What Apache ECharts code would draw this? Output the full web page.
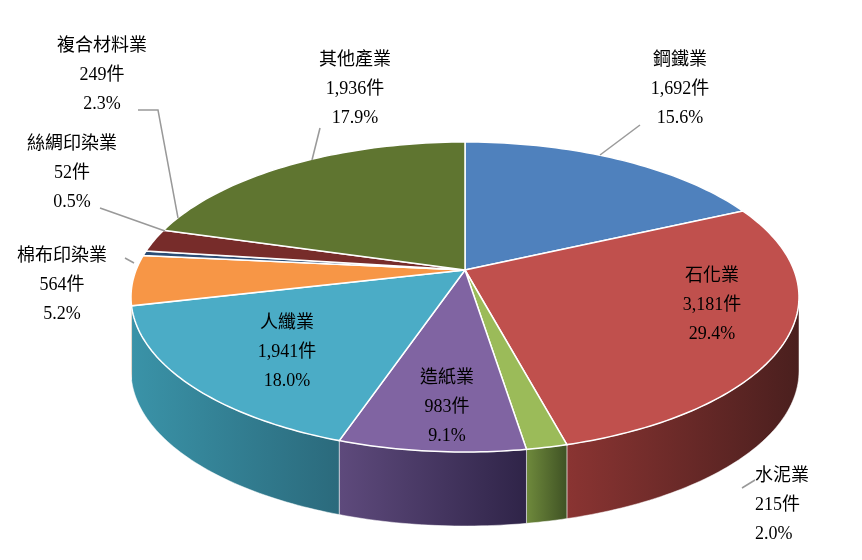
<!DOCTYPE html>
<html><head><meta charset="utf-8">
<script src="https://cdn.jsdelivr.net/npm/echarts@6/dist/echarts.min.js"></script>
<style>html,body{margin:0;background:#fff}#c{width:862px;height:560px}</style>
</head><body><div id="c"></div>
<script>
const categories=['鋼鐵業','石化業','水泥業','造紙業','人纖業','棉布印染業','絲綢印染業','複合材料業','其他產業'];
const counts=[1692,3181,215,983,1941,564,52,249,1936];
const percents=[15.6,29.4,2.0,9.1,18.0,5.2,0.5,2.3,17.9];
const colors=['#4F81BD','#C0504D','#9BBB59','#8064A2','#4BACC6','#F79646','#2C4D75','#772C2A','#5F7530'];
const sideStart=['#3d6596','#8a3432','#6f8a3c','#5e4a7c','#3a93a8','#c87a36','#223c5c','#5a201f','#48592a'];
const sideColors=['#2c4a70','#4a1f1e','#3f5224','#2f2448','#2b6a7c','#a0602a','#1a2e46','#3e1716','#37441b'];
// layout
const CX=465,CY=297,AX=465,AY=270,RX=334,RY=155,D=74;
const labelPos=[[680,46,'center'],[712,262,'center'],[755,462,'left'],[447,364,'center'],[287,309,'center'],[62,242,'center'],[72,130,'center'],[102,32,'center'],[355,46,'center']];
const leaders=[[[600,155],[640,125]],null,[[742,488],[755,480]],null,null,[[134,263],[125,258]],[[100,208],[165,231]],[[138,110],[158,110],[178,218]],[[320,128],[312,160]]];
const total=counts.reduce((a,b)=>a+b,0);
let acc=0;const slices=counts.map((v,i)=>{const s=acc/total*2*Math.PI;acc+=v;return [i,s,acc/total*2*Math.PI];});
function pt(a,dy){return [CX+RX*Math.sin(a),CY-RY*Math.cos(a)+(dy||0)];}
function arc(a1,a2,dy){const n=Math.max(2,Math.ceil((a2-a1)/0.02));const p=[];for(let k=0;k<=n;k++)p.push(pt(a1+(a2-a1)*k/n,dy));return p;}
function sideItem(params,api){const i=api.value(0),s=api.value(1),e=api.value(2);
 const lo=Math.max(s,Math.PI/2),hi=Math.min(e,Math.PI*1.5);if(hi<=lo)return null;
 const top=arc(lo,hi,0),bot=arc(lo,hi,D).reverse();
 return {type:'polygon',shape:{points:top.concat(bot)},style:{fill:new echarts.graphic.LinearGradient(0,0,1,0,[{offset:0,color:sideStart[i]},{offset:1,color:sideColors[i]}]),stroke:'#fff',lineWidth:0.5}};}
function topItem(params,api){const i=api.value(0),s=api.value(1),e=api.value(2);
 return {type:'polygon',shape:{points:[[AX,AY]].concat(arc(s,e,0))},style:{fill:colors[i],stroke:'#fff',lineWidth:1.5}};}
const graphics=[];
categories.forEach((c,i)=>{const p=labelPos[i];
 graphics.push({type:'text',x:p[0],y:p[1],style:{text:c+'\n'+counts[i].toLocaleString('en-US')+'件\n'+percents[i].toFixed(1)+'%',fill:'#000',font:'18px "Liberation Serif","Noto Sans CJK TC"',align:p[2],lineHeight:29,verticalAlign:'top'},z:10});
 if(leaders[i])graphics.push({type:'polyline',shape:{points:leaders[i]},style:{stroke:'#999',lineWidth:1.5,fill:null},z:9});
});
const chart=echarts.init(document.getElementById('c'));
chart.setOption({animation:false,xAxis:{show:false,min:0,max:1},yAxis:{show:false,min:0,max:1},grid:{left:0,right:0,top:0,bottom:0},
 series:[{type:'custom',coordinateSystem:'none',renderItem:sideItem,data:slices},{type:'custom',coordinateSystem:'none',renderItem:topItem,data:slices,z:3}],
 graphic:graphics});
</script></body></html>
